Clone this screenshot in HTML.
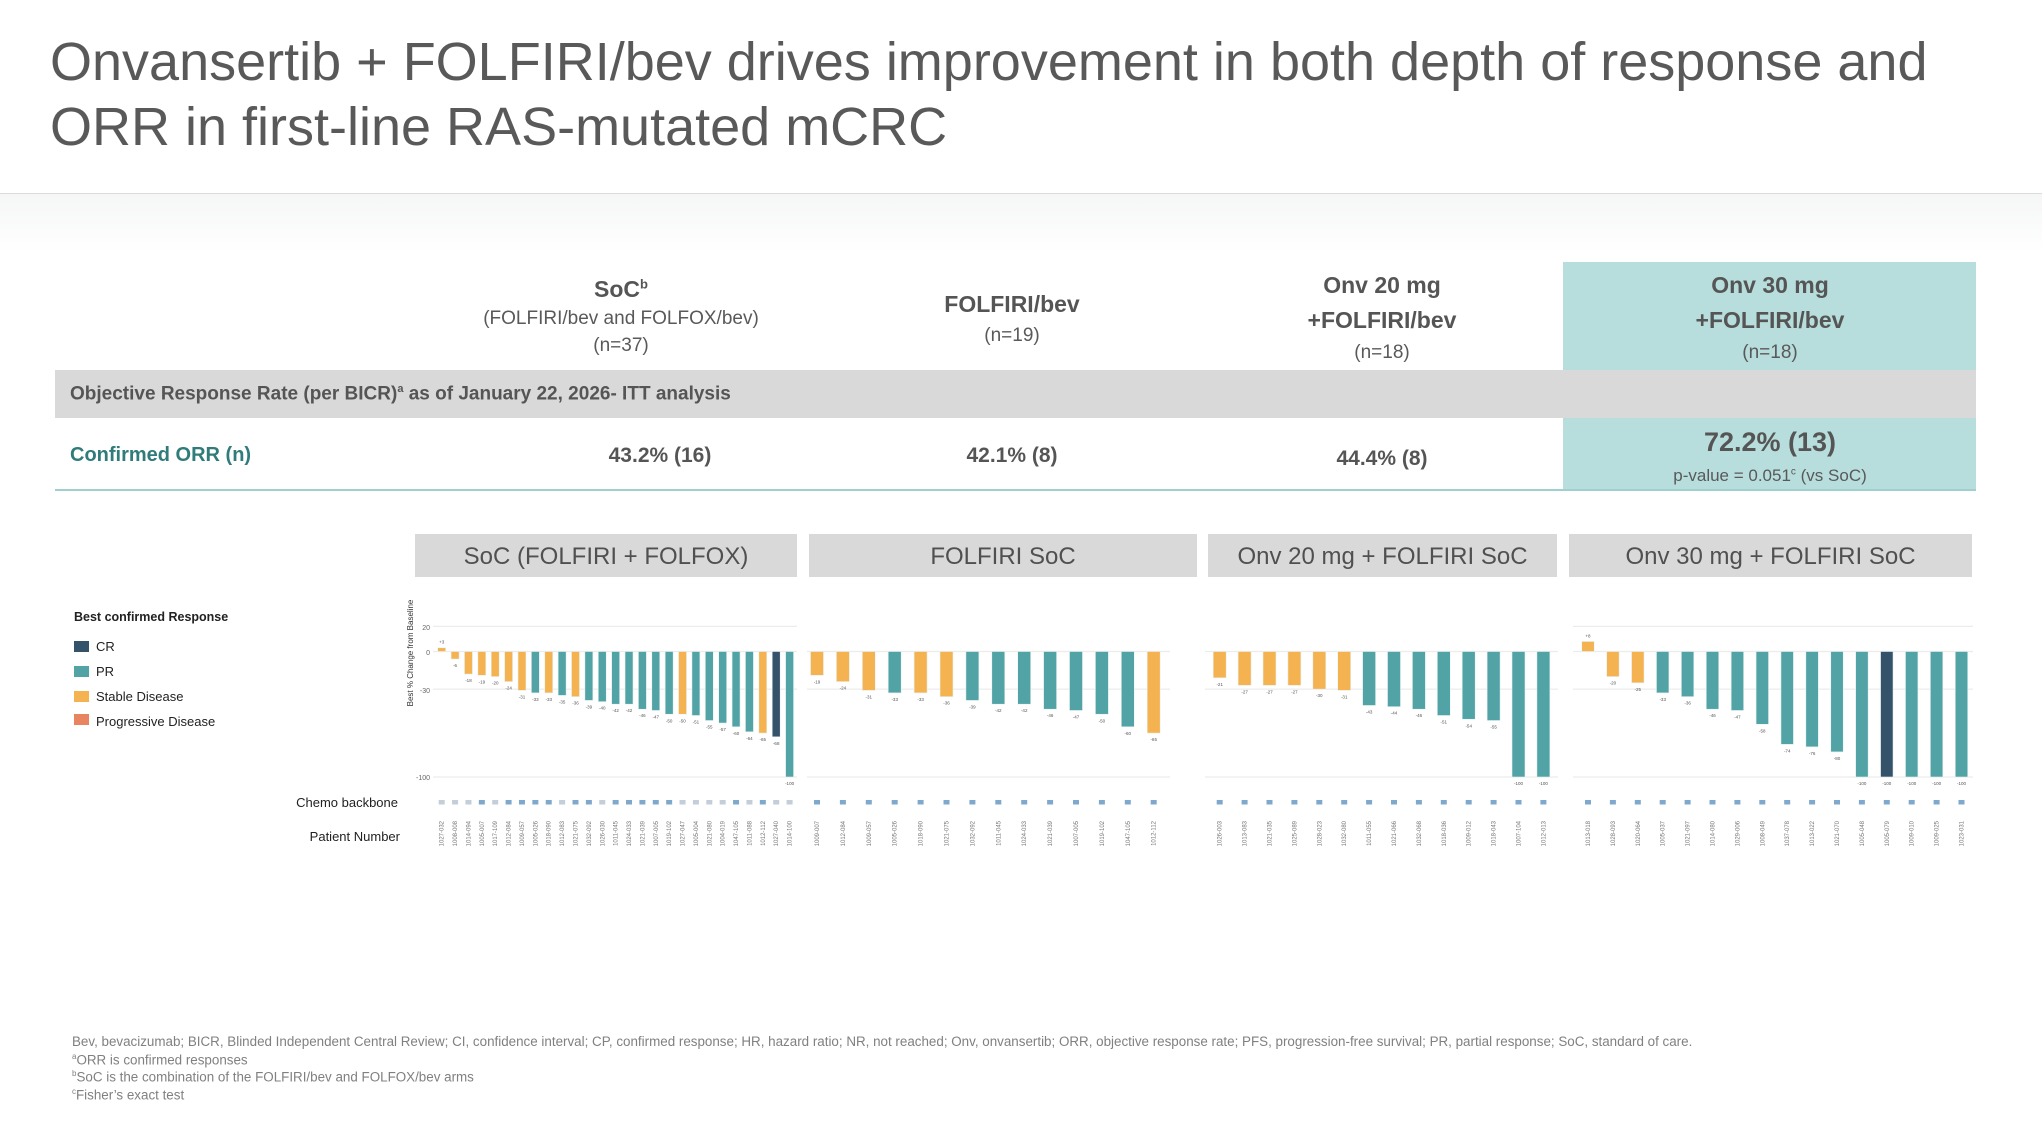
<!DOCTYPE html>
<html><head><meta charset="utf-8">
<style>
*{margin:0;padding:0;box-sizing:border-box}
body{width:2042px;height:1144px;background:#fff;font-family:"Liberation Sans",sans-serif;position:relative;overflow:hidden;color:#595959}
.a{position:absolute}
.title{left:50px;top:30px;font-size:54px;line-height:65px;color:#595959;white-space:nowrap}
.hdr{left:0;top:193px;width:2042px;height:60px;border-top:1px solid #dcdcdc;background:linear-gradient(#f5f6f6,#fff)}
.c{position:absolute;text-align:center;transform:translateX(-50%);white-space:nowrap}
.b{font-weight:bold;color:#555;font-size:23px}
.s{font-size:19px;color:#595959}
.fn{left:72px;font-size:13.4px;color:#808080;white-space:nowrap}
.pt{position:absolute;top:534px;height:43px;background:#d9d9d9;color:#505050;font-size:24px;text-align:center;line-height:45px}
.lg{position:absolute;left:74px;width:15px;height:11px}
.lt{position:absolute;left:96px;font-size:13px;color:#222}
</style></head><body>
<div class="a title">Onvansertib + FOLFIRI/bev drives improvement in both depth of response and<br>ORR in first-line RAS-mutated mCRC</div>
<div class="a hdr"></div>

<div class="a" style="left:1563px;top:262px;width:413px;height:108px;background:#b7dddc"></div>
<div class="a" style="left:55px;top:370px;width:1921px;height:48px;background:#d9d9d9"></div>
<div class="a" style="left:1563px;top:418px;width:413px;height:72px;background:#b7dddc"></div>
<div class="a" style="left:55px;top:489px;width:1921px;height:2px;background:#9fcfcf"></div>

<div class="c b" style="left:621px;top:276px">SoC<sup style="font-size:13px">b</sup></div>
<div class="c s" style="left:621px;top:308px">(FOLFIRI/bev and FOLFOX/bev)</div>
<div class="c s" style="left:621px;top:335px">(n=37)</div>
<div class="c b" style="left:1012px;top:291px">FOLFIRI/bev</div>
<div class="c s" style="left:1012px;top:325px">(n=19)</div>
<div class="c b" style="left:1382px;top:272px">Onv 20 mg</div>
<div class="c b" style="left:1382px;top:307px">+FOLFIRI/bev</div>
<div class="c s" style="left:1382px;top:342px">(n=18)</div>
<div class="c b" style="left:1770px;top:272px">Onv 30 mg</div>
<div class="c b" style="left:1770px;top:307px">+FOLFIRI/bev</div>
<div class="c s" style="left:1770px;top:342px">(n=18)</div>

<div class="a" style="left:70px;top:383px;font-size:19px;font-weight:bold;color:#555;white-space:nowrap">Objective Response Rate (per BICR)<sup style="font-size:11px">a</sup> as of January 22, 2026- ITT analysis</div>
<div class="a" style="left:70px;top:444px;font-size:20px;font-weight:bold;color:#2f7c7a">Confirmed ORR (n)</div>
<div class="c b" style="left:660px;top:444px;font-size:21px">43.2% (16)</div>
<div class="c b" style="left:1012px;top:444px;font-size:21px">42.1% (8)</div>
<div class="c b" style="left:1382px;top:447px;font-size:21px">44.4% (8)</div>
<div class="c b" style="left:1770px;top:427px;font-size:27px">72.2% (13)</div>
<div class="c s" style="left:1770px;top:466px;font-size:17px">p-value = 0.051<sup style="font-size:10px">c</sup> (vs SoC)</div>

<div class="pt" style="left:415px;width:382px">SoC (FOLFIRI + FOLFOX)</div>
<div class="pt" style="left:809px;width:388px">FOLFIRI SoC</div>
<div class="pt" style="left:1208px;width:349px">Onv 20 mg + FOLFIRI SoC</div>
<div class="pt" style="left:1569px;width:403px">Onv 30 mg + FOLFIRI SoC</div>

<div class="a" style="left:74px;top:610px;font-size:12.5px;font-weight:bold;color:#222">Best confirmed Response</div>
<div class="lg" style="top:641px;background:#34526a"></div><div class="lt" style="top:639px">CR</div>
<div class="lg" style="top:666px;background:#52a3a5"></div><div class="lt" style="top:664px">PR</div>
<div class="lg" style="top:691px;background:#f4b350"></div><div class="lt" style="top:689px">Stable Disease</div>
<div class="lg" style="top:714px;background:#e8845f"></div><div class="lt" style="top:714px">Progressive Disease</div>
<div class="a" style="left:250px;width:148px;text-align:right;top:795px;font-size:13px;color:#222">Chemo backbone</div>
<div class="a" style="left:250px;width:150px;text-align:right;top:829px;font-size:13px;color:#222">Patient Number</div>

<svg class="a" id="ch" style="left:0;top:0" width="2042" height="1144" xmlns="http://www.w3.org/2000/svg" font-family="Liberation Sans, sans-serif">
<text x="413" y="653" font-size="8" fill="#333" text-anchor="middle" transform="rotate(-90 413 653)">Best % Change from Baseline</text>
<text x="430" y="630" font-size="7" fill="#666" text-anchor="end">20</text>
<text x="430" y="655" font-size="7" fill="#666" text-anchor="end">0</text>
<text x="430" y="693" font-size="7" fill="#666" text-anchor="end">-30</text>
<text x="430" y="780" font-size="7" fill="#666" text-anchor="end">-100</text>
</svg>

<div class="a fn" style="top:1034px">Bev, bevacizumab; BICR, Blinded Independent Central Review; CI, confidence interval; CP, confirmed response; HR, hazard ratio; NR, not reached; Onv, onvansertib; ORR, objective response rate; PFS, progression-free survival; PR, partial response; SoC, standard of care.</div>
<div class="a fn" style="top:1052px"><sup style="font-size:8px">a</sup>ORR is confirmed responses</div>
<div class="a fn" style="top:1069px"><sup style="font-size:8px">b</sup>SoC is the combination of the FOLFIRI/bev and FOLFOX/bev arms</div>
<div class="a fn" style="top:1087px"><sup style="font-size:8px">c</sup>Fisher’s exact test</div>

<script>
var C={S:"#f4b350",P:"#52a3a5",C:"#34526a"};
var panels=[
{x0:441.7,st:13.38,w:8,g0:433,g1:797,top:true,
v:[3,-6,-18,-19,-20,-24,-31,-33,-33,-35,-36,-39,-40,-42,-42,-46,-47,-50,-50,-51,-55,-57,-60,-64,-65,-68,-100],
c:"SSSSSSSPSPSPPPPPPPSPPPPPSCP",
l:["1027-032","1008-008","1014-094","1005-007","1017-109","1012-084","1009-057","1005-026","1018-090","1012-083","1021-075","1032-092","1026-030","1011-045","1024-033","1021-039","1007-005","1019-102","1027-047","1005-004","1021-080","1004-019","1047-105","1011-088","1012-112","1027-040","1014-100"],
m:"GGGBGBBBBGBBGBBBBBGGGGBGBGG"},
{x0:817,st:25.9,w:13,g0:807,g1:1170,top:false,
v:[-19,-24,-31,-33,-33,-36,-39,-42,-42,-46,-47,-50,-60,-65],c:"SSSPSSPPPPPPPS",
l:["1009-007","1012-084","1009-057","1005-026","1018-090","1021-075","1032-092","1011-045","1024-033","1021-039","1007-005","1019-102","1047-105","1012-112"]},
{x0:1219.7,st:24.9,w:13,g0:1205,g1:1558,top:false,
v:[-21,-27,-27,-27,-30,-31,-43,-44,-46,-51,-54,-55,-100,-100],c:"SSSSSSPPPPPPPP",
l:["1026-003","1013-083","1021-035","1025-089","1028-023","1032-080","1011-055","1021-066","1032-068","1018-036","1009-012","1018-043","1007-104","1012-013"]},
{x0:1588,st:24.9,w:12.5,g0:1573,g1:1973,top:true,
v:[8,-20,-25,-33,-36,-46,-47,-58,-74,-76,-80,-100,-100,-100,-100,-100],c:"SSSPPPPPPPPPCPPP",
l:["1013-018","1028-093","1020-064","1005-037","1021-097","1014-080","1029-006","1008-049","1037-078","1013-022","1021-070","1005-048","1005-079","1009-010","1009-025","1023-031"]}];
var s="",Z=651.5,K=1.255;
panels.forEach(function(p){
 [0,-30,-100].concat(p.top?[20]:[]).forEach(function(g){var y=Z-g*K;s+='<line x1="'+p.g0+'" x2="'+p.g1+'" y1="'+y+'" y2="'+y+'" stroke="#ececec" stroke-width="1.3"/>';});
 p.v.forEach(function(v,i){
  var x=p.x0+i*p.st,h=Math.abs(v)*K,y=v>0?Z-h:Z;
  s+='<rect x="'+(x-p.w/2)+'" y="'+y+'" width="'+p.w+'" height="'+h+'" fill="'+C[p.c[i]]+'" stroke="#e8f2f2" stroke-width="0.6"/>';
  var ty=v>0?Z-h-4:Z+h+8;
  s+='<text x="'+x+'" y="'+ty+'" font-size="4.5" fill="#555" text-anchor="middle">'+(v>0?"+"+v:v)+'</text>';
  var mc=p.m?(p.m[i]=="B"?"#7fa9cc":"#c3ced8"):"#7fa9cc";
  s+='<rect x="'+(x-3)+'" y="800" width="6" height="4.5" fill="'+mc+'"/>';
  s+='<text x="0" y="0" font-size="6" fill="#777" text-anchor="end" transform="translate('+(x+2)+',821) rotate(-90)">'+p.l[i]+'</text>';
 });
});
document.getElementById("ch").insertAdjacentHTML("beforeend",s);
</script>
</body></html>
